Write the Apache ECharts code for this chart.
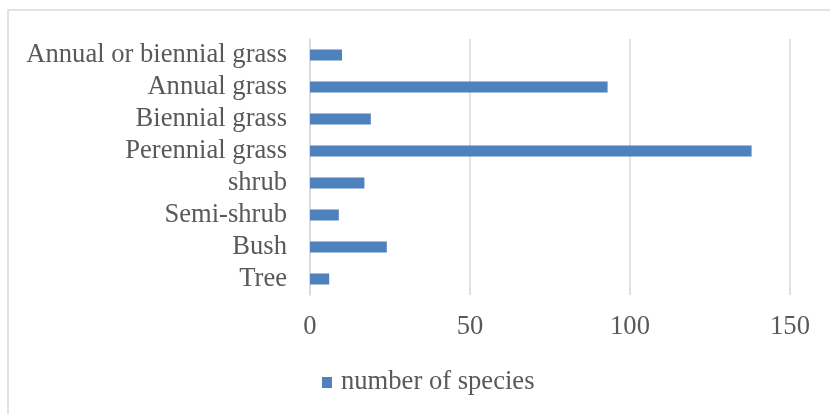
<!DOCTYPE html>
<html>
<head>
<meta charset="utf-8">
<script src="https://cdn.jsdelivr.net/npm/echarts@6/dist/echarts.min.js"></script>
<style>
html,body{margin:0;padding:0;background:#fff;}
#chart{width:830px;height:414px;}
</style>
</head>
<body>
<div id="chart"></div>
<script>
// categories listed bottom to top
const categories = ['Tree', 'Bush', 'Semi-shrub', 'shrub', 'Perennial grass', 'Biennial grass', 'Annual grass', 'Annual or biennial grass'];
const speciesCounts = [6, 24, 9, 17, 138, 19, 93, 10];
const seriesName = 'number of species';
const xTicks = { min: 0, max: 150, interval: 50 };

const FONT = '"Liberation Serif", "Times New Roman", serif';
const TEXT = '#595959';
const GRID = '#d9d9d9';
const FS = 26.6;

const chart = echarts.init(document.getElementById('chart'), null, { renderer: 'canvas' });
chart.setOption({
  animation: false,
  backgroundColor: '#ffffff',
  graphic: [{
    type: 'rect',
    shape: { x: 8, y: 10, width: 840, height: 420 },
    style: { fill: 'none', stroke: GRID, lineWidth: 1.5 },
    silent: true
  }],
  grid: { left: 310, right: 40, top: 39, bottom: 119, containLabel: false },
  legend: {
    data: [{ name: seriesName, icon: 'rect' }],
    left: 317,
    top: 364,
    itemWidth: 10,
    itemHeight: 11,
    textStyle: { fontFamily: FONT, fontSize: FS, color: TEXT, padding: [0, 0, 0, 4] }
  },
  xAxis: {
    type: 'value',
    min: xTicks.min,
    max: xTicks.max,
    interval: xTicks.interval,
    axisLine: { show: false },
    axisTick: { show: false },
    splitLine: { show: true, lineStyle: { color: GRID, width: 1.5 } },
    axisLabel: { fontFamily: FONT, fontSize: FS, color: TEXT, margin: 19 }
  },
  yAxis: {
    type: 'category',
    data: categories,
    axisLine: { show: true, lineStyle: { color: GRID, width: 1.5 } },
    axisTick: { show: false },
    axisLabel: { interval: 0, fontFamily: FONT, fontSize: FS, color: TEXT, margin: 23 }
  },
  series: [{
    name: seriesName,
    type: 'bar',
    data: speciesCounts,
    barWidth: 11,
    itemStyle: { color: '#4f81bd' }
  }]
});
</script>
</body>
</html>
